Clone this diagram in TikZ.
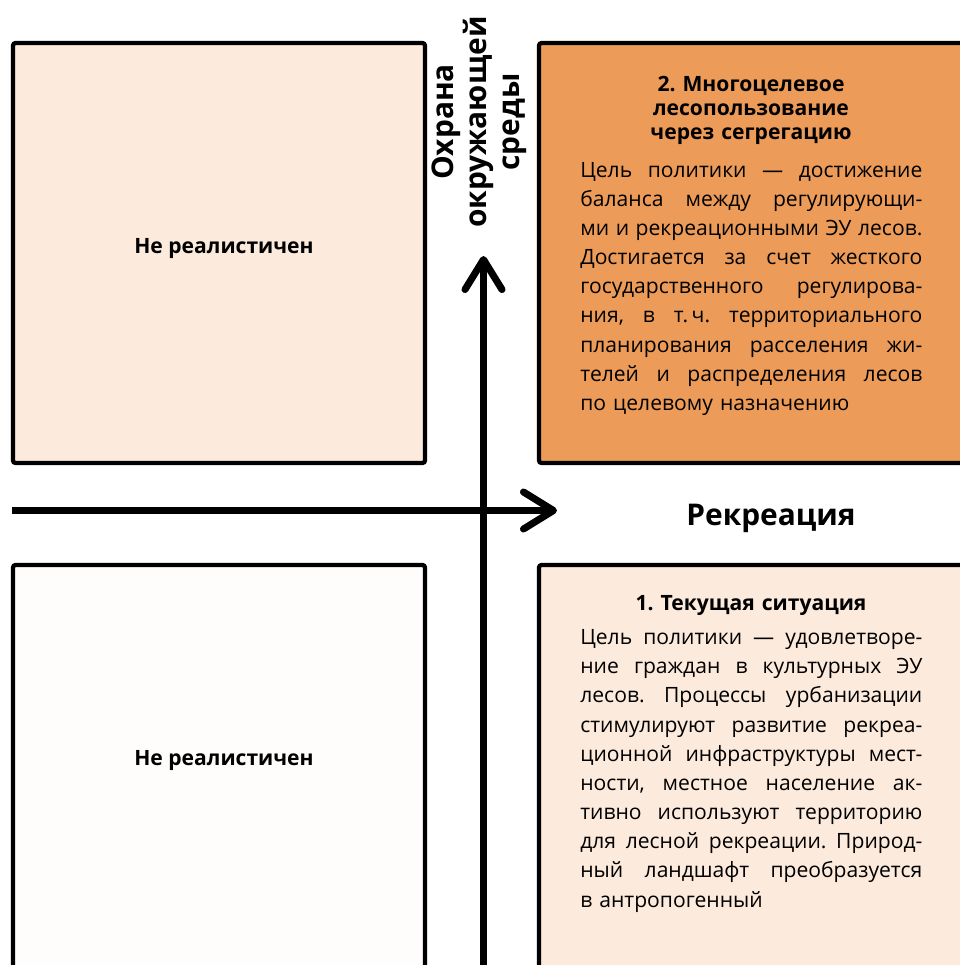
\documentclass[tikz,border=0pt]{standalone}
\usepackage{fontspec}
\setmainfont{Open Sans}
\usepackage{xcolor}
\usetikzlibrary{arrows.meta}
\frenchspacing
\definecolor{peach}{RGB}{252,234,220}
\definecolor{amber}{RGB}{236,155,88}
\definecolor{paper}{RGB}{254,253,252}
\newcommand\jline[1]{\makebox[68.4mm][s]{\spaceskip=3.2pt plus 30pt minus 1pt\relax #1}\\}

\begin{document}
\begin{tikzpicture}[x=0.2mm,y=-0.2mm,
  box/.style={draw,line width=2.4pt,rounded corners=0.5mm},
  body/.style={anchor=base west,inner sep=0,text width=68.4mm,
    font=\fontsize{12}{16.6}\selectfont},
  head/.style={anchor=base,inner sep=0,text width=68.4mm,align=center,
    font=\bfseries\fontsize{12}{13.7}\selectfont},
  axis/.style={line width=4pt,-{Straight Barb[length=6mm,width=7.4mm,round]}}]
\useasboundingbox (0,0) rectangle (960,965);
\clip (0,0) rectangle (960,965);
% quadrants
\draw[box,fill=peach] (13,43) rectangle (425,463);
\draw[box,fill=amber] (539,43) rectangle (990,463);
\draw[box,fill=paper] (13,565) rectangle (425,990);
\draw[box,fill=peach] (539,565) rectangle (990,990);
% axes
\coordinate (west) at (12,510.5);
\coordinate (east) at (557,510.5);
\coordinate (south) at (483.5,990);
\coordinate (north) at (483.5,256);
\draw[axis] (south) -- (north);
\draw[axis] (west) -- (east);
\node[anchor=base,inner sep=0,font=\bfseries\fontsize{17}{20}\selectfont]
  (recreation) at (771,525) {Рекреация};
\node[rotate=90,align=center,inner sep=0,font=\bfseries\fontsize{17}{18.8}\selectfont]
  (protection) at (479,122) {Охрана\\окружающей\\среды};
% left column
\node[anchor=base,inner sep=0,font=\bfseries\fontsize{12}{14}\selectfont]
  (unreal2) at (224,253) {Не реалистичен};
\node[anchor=base,inner sep=0,font=\bfseries\fontsize{12}{14}\selectfont]
  (unreal1) at (224,765) {Не реалистичен};
% right column
\node[head] (head2) at (751,91) {2. Многоцелевое\\лесопользование\\через сегрегацию};
\node[body] (goal2) at (580,177) {%
\jline{Цель политики — достижение}
\jline{баланса между регулирующи-}
\jline{ми и рекреационными ЭУ лесов.}
\jline{Достигается за счет жесткого}
\jline{государственного регулирова-}
\jline{ния, в т.\,ч. территориального}
\jline{планирования расселения жи-}
\jline{телей и распределения лесов}
по целевому назначению};
\node[head] (head1) at (751,610) {1. Текущая ситуация};
\node[body] (goal1) at (580,644.5) {%
\jline{Цель политики — удовлетворе-}
\jline{ние граждан в культурных ЭУ}
\jline{лесов. Процессы урбанизации}
\jline{стимулируют развитие рекреа-}
\jline{ционной инфраструктуры мест-}
\jline{ности, местное население ак-}
\jline{тивно используют территорию}
\jline{для лесной рекреации. Природ-}
\jline{ный ландшафт преобразуется}
в антропогенный};
\end{tikzpicture}
\end{document}
